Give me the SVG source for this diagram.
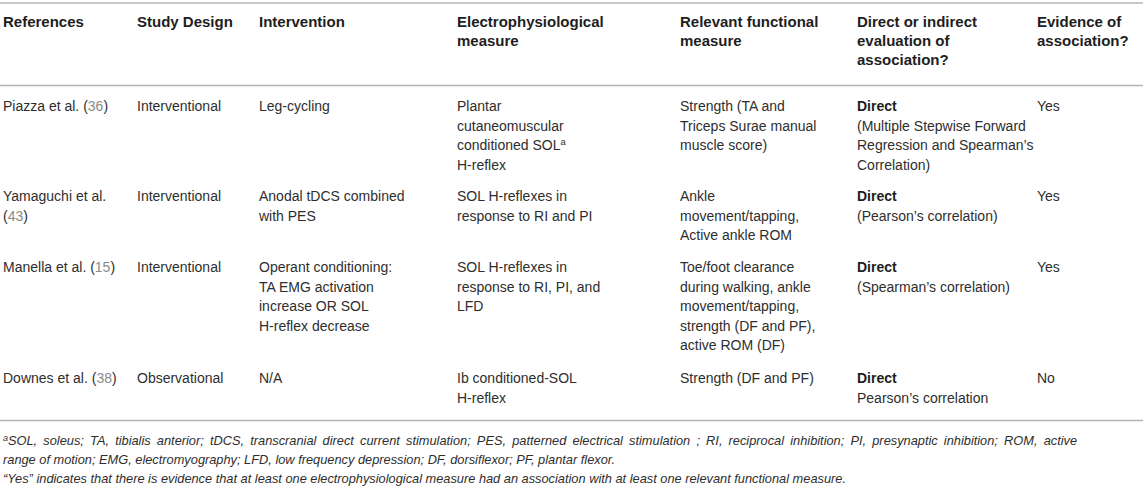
<svg xmlns="http://www.w3.org/2000/svg" width="1143" height="490" viewBox="0 0 1143 490">
<style>
text{font-family:"Liberation Sans",Arial,Helvetica,sans-serif;font-size:14px;fill:#2e2e2e}
.h{font-weight:bold;font-size:15px;fill:#1e1e1e}
.b{font-weight:bold;fill:#1e1e1e}
.r{fill:#8a8a8a}
.f{font-style:italic;font-size:12.8px}
.rule{stroke:#b4b4b4;stroke-width:1.6}
</style>
<rect width="1143" height="490" fill="#ffffff"/>
<g id="rules">
<line class="rule" x1="0" y1="3" x2="1143" y2="3"/>
<line class="rule" x1="0" y1="85.5" x2="1143" y2="85.5"/>
<line class="rule" x1="0" y1="420.5" x2="1143" y2="420.5"/>
</g>
<g id="header">
<text class="h" x="3" y="27">References</text>
<text class="h" x="137" y="27">Study Design</text>
<text class="h" x="259" y="27">Intervention</text>
<text class="h" x="457" y="27">Electrophysiological</text>
<text class="h" x="457" y="46">measure</text>
<text class="h" x="680" y="27">Relevant functional</text>
<text class="h" x="680" y="46">measure</text>
<text class="h" x="857" y="27">Direct or indirect</text>
<text class="h" x="857" y="46">evaluation of</text>
<text class="h" x="857" y="65">association?</text>
<text class="h" x="1037" y="27">Evidence of</text>
<text class="h" x="1037" y="46">association?</text>
</g>
<g id="row1">
<text x="3" y="111">Piazza et al. (<tspan class="r">36</tspan>)</text>
<text x="137" y="111">Interventional</text>
<text x="259" y="111">Leg-cycling</text>
<text x="457" y="111">Plantar</text>
<text x="457" y="130.5">cutaneomuscular</text>
<text x="457" y="150">conditioned SOL<tspan font-size="9.5" dy="-5">a</tspan></text>
<text x="457" y="169.5">H-reflex</text>
<text x="680" y="111">Strength (TA and</text>
<text x="680" y="130.5">Triceps Surae manual</text>
<text x="680" y="150">muscle score)</text>
<text class="b" x="857" y="111">Direct</text>
<text x="857" y="130.5">(Multiple Stepwise Forward</text>
<text x="857" y="150">Regression and Spearman’s</text>
<text x="857" y="169.5">Correlation)</text>
<text x="1037" y="111">Yes</text>
</g>
<g id="row2">
<text x="3" y="201">Yamaguchi et al.</text>
<text x="3" y="220.5">(<tspan class="r">43</tspan>)</text>
<text x="137" y="201">Interventional</text>
<text x="259" y="201">Anodal tDCS combined</text>
<text x="259" y="220.5">with PES</text>
<text x="457" y="201">SOL H-reflexes in</text>
<text x="457" y="220.5">response to RI and PI</text>
<text x="680" y="201">Ankle</text>
<text x="680" y="220.5">movement/tapping,</text>
<text x="680" y="240">Active ankle ROM</text>
<text class="b" x="857" y="201">Direct</text>
<text x="857" y="220.5">(Pearson’s correlation)</text>
<text x="1037" y="201">Yes</text>
</g>
<g id="row3">
<text x="3" y="272">Manella et al. (<tspan class="r">15</tspan>)</text>
<text x="137" y="272">Interventional</text>
<text x="259" y="272">Operant conditioning:</text>
<text x="259" y="291.5">TA EMG activation</text>
<text x="259" y="311">increase OR SOL</text>
<text x="259" y="330.5">H-reflex decrease</text>
<text x="457" y="272">SOL H-reflexes in</text>
<text x="457" y="291.5">response to RI, PI, and</text>
<text x="457" y="311">LFD</text>
<text x="680" y="272">Toe/foot clearance</text>
<text x="680" y="291.5">during walking, ankle</text>
<text x="680" y="311">movement/tapping,</text>
<text x="680" y="330.5">strength (DF and PF),</text>
<text x="680" y="350">active ROM (DF)</text>
<text class="b" x="857" y="272">Direct</text>
<text x="857" y="291.5">(Spearman’s correlation)</text>
<text x="1037" y="272">Yes</text>
</g>
<g id="row4">
<text x="3" y="383">Downes et al. (<tspan class="r">38</tspan>)</text>
<text x="137" y="383">Observational</text>
<text x="259" y="383">N/A</text>
<text x="457" y="383">Ib conditioned-SOL</text>
<text x="457" y="402.5">H-reflex</text>
<text x="680" y="383">Strength (DF and PF)</text>
<text class="b" x="857" y="383">Direct</text>
<text x="857" y="402.5">Pearson’s correlation</text>
<text x="1037" y="383">No</text>
</g>
<g id="footnotes">
<text class="f" x="3" y="445" word-spacing="2.6"><tspan font-size="9" dy="-4">a</tspan><tspan dy="4">SOL, soleus; TA, tibialis anterior; tDCS, transcranial direct current stimulation; PES, patterned electrical stimulation ; RI, reciprocal inhibition; PI, presynaptic inhibition; ROM, active</tspan></text>
<text class="f" x="3" y="464">range of motion; EMG, electromyography; LFD, low frequency depression; DF, dorsiflexor; PF, plantar flexor.</text>
<text class="f" x="3" y="483">“Yes” indicates that there is evidence that at least one electrophysiological measure had an association with at least one relevant functional measure.</text>
</g>
</svg>
